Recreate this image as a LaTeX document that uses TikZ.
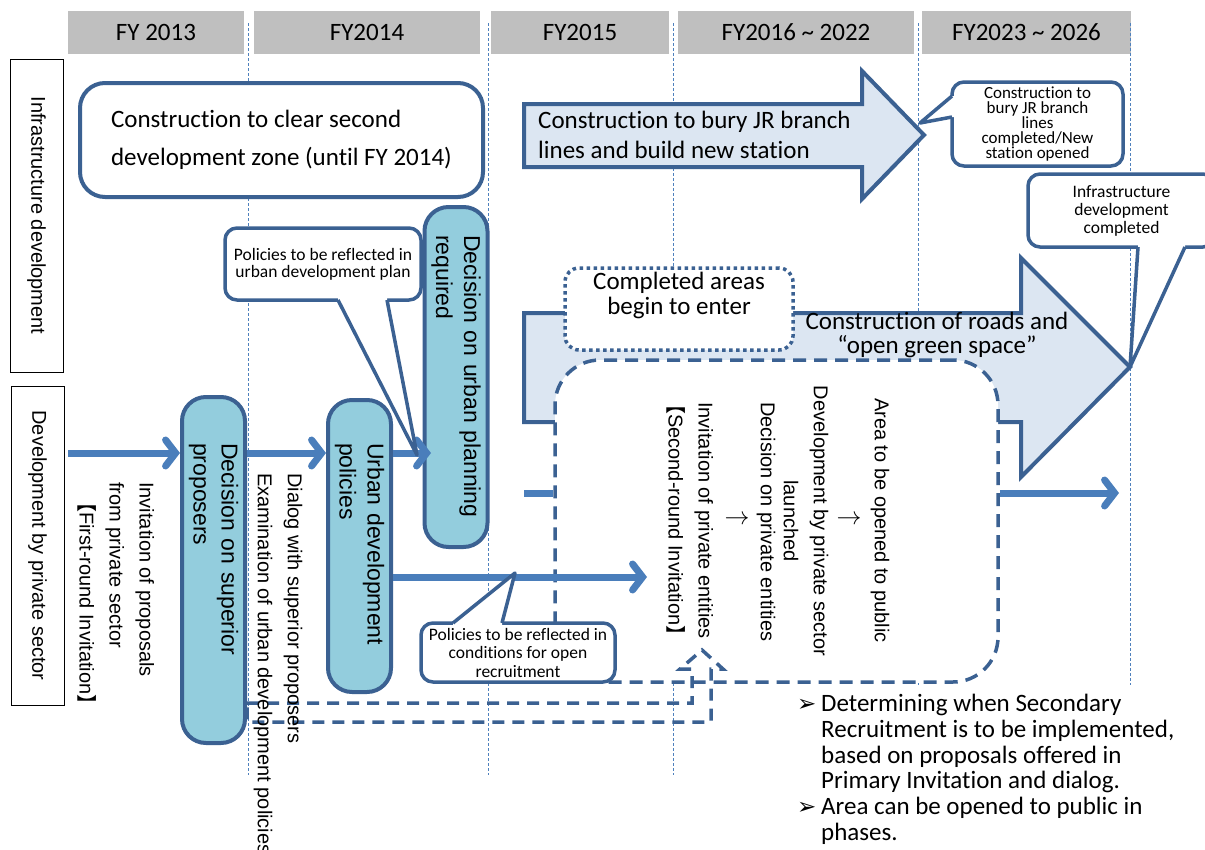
\documentclass[tikz,border=0pt]{standalone}
\usepackage{fontspec}
\setmainfont{Carlito}[Ligatures=NoCommon]
\newfontfamily\vfont{Liberation Sans}
\newfontfamily\cjk{Noto Sans CJK JP}
\newfontfamily\symfont{DejaVu Sans}
\usetikzlibrary{arrows.meta}
\definecolor{edgeblue}{RGB}{59,97,146}
\definecolor{flowblue}{RGB}{74,126,187}
\definecolor{boxteal}{RGB}{147,205,221}
\definecolor{paleblue}{RGB}{220,230,242}
\definecolor{headgray}{RGB}{191,191,191}
\definecolor{gridblue}{RGB}{79,129,189}

\begin{document}
\begin{tikzpicture}
    [
        x=1pt, y=-1pt,
        yearbar/.style={fill=headgray, minimum height=43pt, inner sep=0pt, font=\fontsize{25}{30}\selectfont},
        grid/.style={gridblue, line width=0.9pt, dash pattern=on 3pt off 2pt},
        lane/.style={draw=black, line width=1pt, rotate=-90, inner sep=0pt, minimum height=53pt, font=\vfont\fontsize{20}{24}\selectfont},
        phasebox/.style={draw=edgeblue, line width=4pt, fill=white, rounded corners=25pt},
        phasedash/.style={draw=edgeblue, line width=3.5pt, dash pattern=on 13pt off 8pt, fill=white, rounded corners=45pt},
        decision/.style={draw=edgeblue, line width=4pt, fill=boxteal, rounded corners=24pt, rotate=-90, inner sep=0pt, align=left, minimum height=63pt, font=\vfont\fontsize{23}{28}\selectfont},
        blockarrow/.style={draw=edgeblue, line width=4pt, fill=paleblue, line join=miter},
        callout/.style={draw=edgeblue, line width=3.5pt, fill=white, rounded corners=12pt, inner sep=0pt, align=center},
        tail/.style={edgeblue, line width=3.5pt, line join=round},
        flow/.style={flowblue, line width=7pt, -{Straight Barb[length=10pt, width=26pt, line cap=round]}},
        vtext/.style={rotate=-90, inner sep=0pt, align=left, font=\vfont\fontsize{20}{30}\selectfont},
        thenarrow/.style={inner sep=0pt, font=\fontsize{26}{26}\selectfont},
        loopline/.style={edgeblue, line width=3.5pt, dash pattern=on 12pt off 8pt}
    ]
    \useasboundingbox (0,0) rectangle (1205,849);

    % Years
    \node[yearbar, minimum width=176pt] (fy13) at (156,32.5) {FY 2013};
    \node[yearbar, minimum width=226pt] (fy14) at (367,32.5) {FY2014};
    \node[yearbar, minimum width=178pt] (fy15) at (580,32.5) {FY2015};
    \node[yearbar, minimum width=236pt] (fy16) at (796,32.5) {FY2016 \textasciitilde\ 2022};
    \node[yearbar, minimum width=209pt] (fy23) at (1026.5,32.5) {FY2023 \textasciitilde\ 2026};
    \foreach \gx/\gy in {248/775, 488/775, 673/775, 918/685, 1130/685}
        \draw[grid] (\gx,23) -- (\gx,\gy);

    % Lanes
    \node[lane, minimum width=313pt] (infra) at (36.5,215.5) {Infrastructure development};
    \node[lane, minimum width=319pt] (private) at (37.5,545.5) {Development by private sector};

    % Infrastructure
    \node[phasebox, minimum width=403pt, minimum height=114pt, align=left, font=\fontsize{25}{38}\selectfont] (clearance) at (281.5,140) {Construction to clear second\\development zone (until FY 2014)};
    \draw[blockarrow] (524,104) -- (862,104) -- (862,71) -- (924,135) -- (862,199) -- (862,167) -- (524,167) -- cycle;
    \node[anchor=west, align=left, inner sep=0pt, font=\fontsize{25}{30}\selectfont] (jrwork) at (538,135) {Construction to bury JR branch\\lines and build new station};
    \draw[blockarrow] (524,313) -- (1021,313) -- (1021,258) -- (1130,367) -- (1021,477) -- (1021,422) -- (524,422) -- cycle;
    \node[phasedash, minimum width=443pt, minimum height=322pt] (phase2) at (776.5,521) {};
    \node[draw=edgeblue, line width=3.5pt, dash pattern=on 3.5pt off 3.5pt, fill=white, rounded corners=14pt, minimum width=228pt, minimum height=82pt, inner sep=0pt, align=center, text depth=32pt, font=\fontsize{25}{25}\selectfont] (entry) at (679,309) {Completed areas\\begin to enter};
    \node[align=center, inner sep=0pt, font=\fontsize{25}{24}\selectfont] (roads) at (937,335) {Construction of roads and\\“open green space”};

    % Decisions
    \node[decision, minimum width=346pt, text width=254pt] (superior) at (213.5,570) {Decision on superior\\proposers};
    \node[decision, minimum width=292pt, text width=206pt] (urbanpol) at (359.5,546) {Urban development\\policies};
    \node[decision, minimum width=340pt, text width=284pt] (planning) at (456,377) {Decision on urban planning\\required};

    % Arrows
    \coordinate (rowtop) at (0,453);
    \coordinate (firstin) at (68,453);
    \coordinate (planin) at (431,453);
    \coordinate (secondin) at (647,577);
    \coordinate (stubin) at (524,493);
    \coordinate (openout) at (1119,493);
    \draw[flow] (firstin) -- (superior.south |- rowtop);
    \draw[flow] (superior.north |- rowtop) -- (urbanpol.south |- rowtop);
    \draw[flow] (urbanpol.north |- rowtop) -- (planin);
    \draw[flow] (urbanpol.north |- secondin) -- (secondin);
    \draw[flowblue, line width=7pt] (stubin) -- (phase2.west |- stubin);
    \draw[flow] (phase2.east |- openout) -- (openout);

    % Callouts
    \node[callout, minimum width=196pt, minimum height=72pt, font=\fontsize{17.5}{17}\selectfont] (planpolicy) at (323,264) {Policies to be reflected in\\urban development plan};
    \fill[white] (338,297) -- (338,300) -- (417,455) -- (387,300) -- (387,297) -- cycle;
    \draw[tail] (338,300) -- (417,455) -- (387,300);
    \node[callout, minimum width=194pt, minimum height=59pt, font=\fontsize{17.5}{18.5}\selectfont] (recruitpolicy) at (518,652.5) {Policies to be reflected in\\conditions for open\\recruitment};
    \fill[white] (453,626) -- (453,623) -- (515,573) -- (502,623) -- (502,626) -- cycle;
    \draw[tail] (453,623) -- (515,573) -- (502,623);
    \node[callout, minimum width=171pt, minimum height=84pt, font=\fontsize{17}{15}\selectfont] (jrdone) at (1037.5,124) {Construction to\\bury JR branch\\lines\\completed/New\\station opened};
    \fill[white] (955,96) -- (952,96) -- (920,123) -- (952,117) -- (955,117) -- cycle;
    \draw[tail] (952,96) -- (920,123) -- (952,117);
    \node[callout, minimum width=187pt, minimum height=73pt, font=\fontsize{17.5}{18}\selectfont] (infdone) at (1121.5,210.5) {Infrastructure\\development\\completed};
    \fill[white] (1138,244) -- (1138,247) -- (1130,367) -- (1185,247) -- (1185,244) -- cycle;
    \draw[tail] (1138,247) -- (1130,367) -- (1185,247);

    % Feedback to second round
    \coordinate (fbturn) at (692,703);
    \coordinate (fbapex) at (702,650);
    \draw[loopline] (superior.north |- fbturn) -- (fbturn) -- (692,669) -- (680,669) -- (fbapex) -- (723,669) -- (711,669) -- (711,722) -- (superior.north |- 0,722) -- cycle;

    % Steps
    \node[vtext, anchor=west] (firstround) at (116,482) {Invitation of proposals\\from private sector\\\hspace*{10pt}{\cjk 【}First-round Invitation{\cjk 】}};
    \node[vtext, anchor=west] (dialog) at (278,473) {Dialog with superior proposers\\Examination of urban development policies};
    \node[vtext, anchor=west] (invite) at (690,402) {Invitation of private entities\\\hspace*{-8pt}{\cjk 【}Second-round Invitation{\cjk 】}};
    \node[thenarrow] (stepa) at (737,520) {$\rightarrow$};
    \node[vtext, anchor=west] (decide) at (766,402) {Decision on private entities};
    \node[vtext, align=center] (launch) at (806,521) {Development by private sector\\launched};
    \node[thenarrow] (stepb) at (849,520) {$\rightarrow$};
    \node[vtext, anchor=west] (opening) at (880,398) {Area to be opened to public};

    % Notes
    \node[anchor=north west, align=left, inner sep=0pt, font=\fontsize{25}{25.8}\selectfont] (notes) at (797,694) {\makebox[24pt][l]{\symfont\fontsize{23}{23}\selectfont ➢}Determining when Secondary\\\hspace*{24pt}Recruitment is to be implemented,\\\hspace*{24pt}based on proposals offered in\\\hspace*{24pt}Primary Invitation and dialog.\\\makebox[24pt][l]{\symfont\fontsize{23}{23}\selectfont ➢}Area can be opened to public in\\\hspace*{24pt}phases.};
\end{tikzpicture}
\end{document}
